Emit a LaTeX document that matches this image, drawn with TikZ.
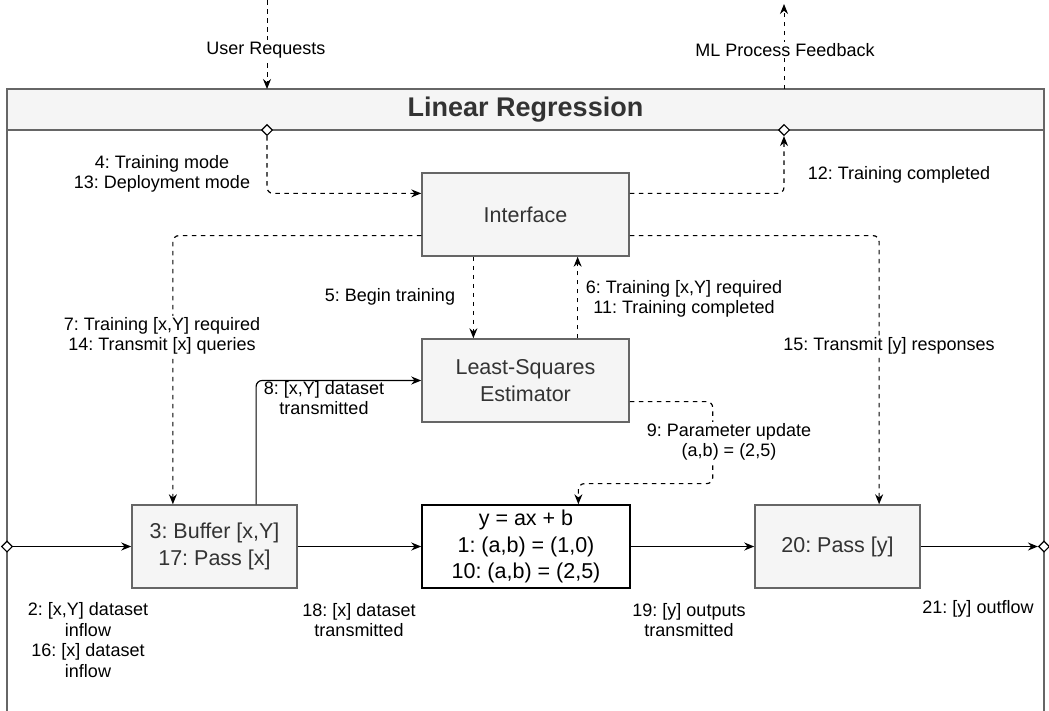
\documentclass[tikz,border=0pt]{standalone}
\usepackage{fontspec}
\setmainfont{Liberation Sans}
\frenchspacing
\usetikzlibrary{arrows.meta,shapes.geometric,calc}
\definecolor{boxfill}{HTML}{F5F5F5}
\definecolor{boxline}{HTML}{666666}
\definecolor{boxtext}{HTML}{333333}
\begin{document}
\begin{tikzpicture}[x=1pt,y=-1pt,
  box/.style={draw=boxline, fill=boxfill, line width=1.5pt, text=boxtext,
    font=\fontsize{21.5}{26.5}\selectfont, align=center,
    minimum width=207pt, minimum height=83pt, inner sep=0pt},
  lbl/.style={fill=white, inner sep=1.5pt, align=center, text=black,
    font=\fontsize{18}{20.5}\selectfont},
  lblnf/.style={lbl, fill=none},
  port/.style={diamond, draw=black, fill=white, line width=1.1pt,
    minimum width=11pt, minimum height=11pt, inner sep=0pt},
  dashedge/.style={draw=black, line width=1.2pt, dash pattern=on 4.5pt off 4.5pt,
    rounded corners=6pt, -{Stealth[length=10pt,width=8pt]}},
  thinedge/.style={dashedge, line width=1pt},
  solidedge/.style={draw=black, line width=1.2pt,
    rounded corners=6pt, -{Stealth[length=10pt,width=8pt]}}
]
\useasboundingbox (0,0) rectangle (1049,710);
\clip (0,0) rectangle (1049,710);
\fill[white] (0,0) rectangle (1049,710);

% container
\draw[boxline, line width=1.5pt] (7,725) -- (7,89) -- (1044,89) -- (1044,725);
\filldraw[fill=boxfill, draw=boxline, line width=1.5pt] (7,89) rectangle (1044,130);
\node[font=\bfseries\fontsize{27}{32}\selectfont, text=boxtext] (title) at (525.5,110) {Linear Regression};

% boxes
\node[box] (interface) at (525.5,214.5) {Interface};
\node[box] (lse) at (525.5,380.5) {Least-Squares\\Estimator};
\node[box, minimum width=165pt] (buffer) at (214.5,546.5) {3: Buffer [x,Y]\\17: Pass [x]};
\node[box, fill=white, draw=black, text=black, minimum width=208pt] (model) at (526,546.5) {y = ax + b\\1: (a,b) = (1,0)\\10: (a,b) = (2,5)};
\node[box, minimum width=165pt] (passy) at (837.5,546.5) {20: Pass [y]};

% outer coordinates
\coordinate (ureqtop) at (267,0);
\coordinate (ureqend) at (267,89);
\coordinate (mlstart) at (784,89);
\coordinate (mltop) at (784,4);

% edges
\draw[thinedge] (ureqtop) -- (ureqend);
\draw[thinedge] (mlstart) -- (mltop);
\node[lbl] (lreq) at (266,50) {User Requests};
\node[lbl] (lml) at (785,50) {ML Process Feedback};

\node[port] (pin) at (267,130) {};
\node[port] (pout) at (784,130) {};
\node[port] (pleft) at (7,546.5) {};
\node[port] (pright) at (1044,546.5) {};

\draw[dashedge] (pin.south) |- ($(interface.north west)!.25!(interface.south west)$);
\draw[dashedge] ($(interface.north east)!.25!(interface.south east)$) -| (pout.south);
\draw[dashedge] ($(interface.north west)!.75!(interface.south west)$) -| ($(buffer.north west)!.25!(buffer.north east)$);
\draw[dashedge] ($(interface.north east)!.75!(interface.south east)$) -| ($(passy.north west)!.75!(passy.north east)$);
\draw[dashedge] ($(interface.south west)!.25!(interface.south east)$) -- ($(lse.north west)!.25!(lse.north east)$);
\draw[dashedge] ($(lse.north west)!.75!(lse.north east)$) -- ($(interface.south west)!.75!(interface.south east)$);
\draw[solidedge] ($(buffer.north west)!.75!(buffer.north east)$) |- (lse.west);
\draw[dashedge] ($(lse.north east)!.75!(lse.south east)$) -- ++(83,0) -- ++(0,82) -| ($(model.north west)!.75!(model.north east)$);
\draw[solidedge] (pleft.east) -- (buffer.west);
\draw[solidedge] (buffer.east) -- (model.west);
\draw[solidedge] (model.east) -- (passy.west);
\draw[solidedge] (passy.east) -- (pright.west);

% labels
\node[lbl] (l4) at (162,174) {4: Training mode\\13: Deployment mode};
\node[lbl] (l12) at (899,175) {12: Training completed};
\node[lbl] (l5) at (390,297) {5: Begin training};
\node[lbl] (l6) at (684,299) {6: Training [x,Y] required\\11: Training completed};
\node[lbl] (l7) at (162,336) {7: Training [x,Y] required\\14: Transmit [x] queries};
\node[lbl] (l15) at (889,346) {15: Transmit [y] responses};
\node[lblnf] (l8) at (324,398) {8: [x,Y] dataset\\transmitted};
\node[lbl] (l9) at (729,442) {9: Parameter update\\(a,b) = (2,5)};
\node[lbl] (l2) at (88,640) {2: [x,Y] dataset\\inflow\\16: [x] dataset\\inflow};
\node[lbl] (l18) at (359,620) {18: [x] dataset\\transmitted};
\node[lbl] (l19) at (689,620) {19: [y] outputs\\transmitted};
\node[lbl] (l21) at (978,609) {21: [y] outflow};
\end{tikzpicture}
\end{document}
